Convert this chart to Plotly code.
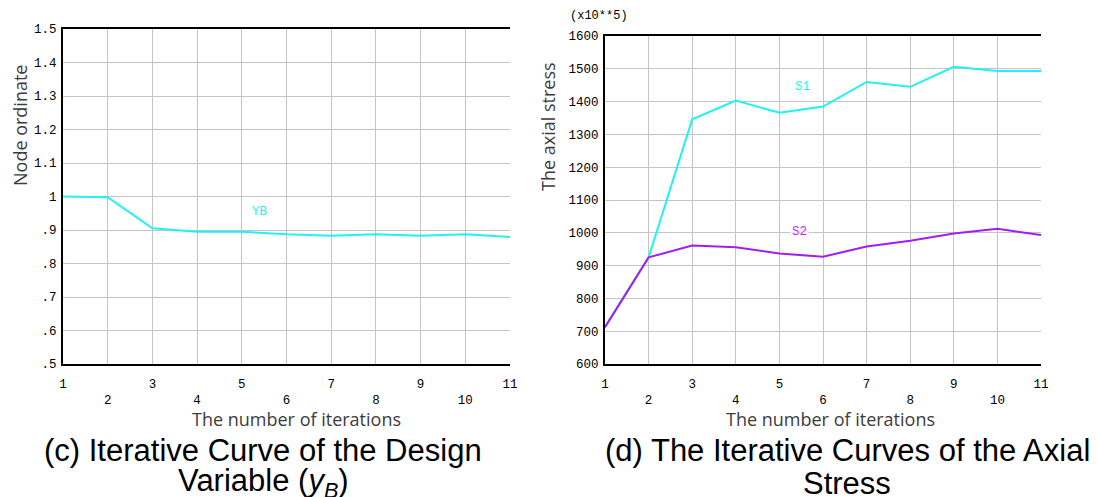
import plotly.graph_objects as go

iterations = list(range(1, 12))
yb_values = [1.0, 0.998, 0.905, 0.895, 0.895, 0.887, 0.883, 0.887, 0.883, 0.887, 0.879]
s1_values = [712, 925, 1346, 1403, 1366, 1385, 1460, 1445, 1506, 1493, 1493]
s2_values = [712, 925, 961, 956, 937, 927, 958, 976, 998, 1012, 993]

x_tickvals = iterations
x_ticktext = [str(v) if v % 2 == 1 else "<br>" + str(v) for v in iterations]
left_yvals = [0.5, 0.6, 0.7, 0.8, 0.9, 1.0, 1.1, 1.2, 1.3, 1.4, 1.5]
left_ytext = [".5", ".6", ".7", ".8", ".9", "1", "1.1", "1.2", "1.3", "1.4", "1.5"]
right_yvals = [600, 700, 800, 900, 1000, 1100, 1200, 1300, 1400, 1500, 1600]
right_ytext = [str(v) for v in right_yvals]

CYAN = "#1ff2f2"
PURPLE = "#a01ef0"
MONO = "Liberation Mono, DejaVu Sans Mono, monospace"
SANS = "Open Sans, Noto Sans, sans-serif"
CAP = "Liberation Sans, Arial, sans-serif"
GRID = "#c4c4c4"
TITLE_COL = "#3c3c3c"

fig = go.Figure()
fig.add_trace(go.Scatter(x=iterations, y=yb_values, mode="lines",
                         line=dict(color=CYAN, width=2), xaxis="x", yaxis="y", showlegend=False))
fig.add_trace(go.Scatter(x=iterations, y=s1_values, mode="lines",
                         line=dict(color=CYAN, width=2), xaxis="x2", yaxis="y2", showlegend=False))
fig.add_trace(go.Scatter(x=iterations, y=s2_values, mode="lines",
                         line=dict(color=PURPLE, width=2), xaxis="x2", yaxis="y2", showlegend=False))

W, H = 1097, 497
OFF = 8  # page body margin

def px(xp):
    return (xp - OFF) / W

def py(yp):
    return 1 - (yp - OFF) / H

xcommon = dict(range=[1, 11], tickmode="array", tickvals=x_tickvals, ticktext=x_ticktext,
               showgrid=True, gridcolor=GRID, gridwidth=1, showline=True, linecolor="black",
               linewidth=2, mirror=True, ticks="", zeroline=False, automargin=False,
               ticklabelstandoff=7,
               tickfont=dict(family=MONO, size=12.5, color="black"))
ycommon = dict(tickmode="array", showgrid=True, gridcolor=GRID, gridwidth=1, showline=True,
               linecolor="black", linewidth=2, mirror=False, ticks="", zeroline=False,
               automargin=False, ticklabelstandoff=2,
               tickfont=dict(family=MONO, size=12.5, color="black"))

fig.update_layout(
    width=W, height=H, margin=dict(l=0, r=0, t=0, b=0, autoexpand=False),
    paper_bgcolor="white", plot_bgcolor="white",
    xaxis=dict(domain=[px(63), px(510)], anchor="y", **xcommon),
    yaxis=dict(domain=[py(364), py(29)], anchor="x", range=[0.5, 1.5],
               tickvals=left_yvals, ticktext=left_ytext, **ycommon),
    xaxis2=dict(domain=[px(605), px(1041)], anchor="y2", **xcommon),
    yaxis2=dict(domain=[py(364), py(36)], anchor="x2", range=[600, 1600],
                tickvals=right_yvals, ticktext=right_ytext, **ycommon),
)

def note(x, y, text, font, **kw):
    d = dict(x=px(x), y=py(y), xref="paper", yref="paper", text=text, showarrow=False,
             xanchor="center", yanchor="middle", font=font)
    d.update(kw)
    return d

ann = []
ann.append(dict(x=5.41, y=0.954, xref="x", yref="y", text="YB", showarrow=False,
                xanchor="center", yanchor="middle",
                font=dict(family=MONO, size=12.5, color=CYAN)))
ann.append(dict(x=5.54, y=1445, xref="x2", yref="y2", text="S1", showarrow=False,
                xanchor="center", yanchor="middle",
                font=dict(family=MONO, size=12.5, color=CYAN)))
ann.append(dict(x=5.47, y=1002, xref="x2", yref="y2", text="S2", showarrow=False,
                xanchor="center", yanchor="middle", bgcolor="white",
                font=dict(family=MONO, size=12.5, color="#c81eff")))
ann.append(dict(x=px(599), y=1, xref="paper", yref="paper", text="(x10**5)", showarrow=False,
                xanchor="center", yanchor="top", borderpad=0,
                font=dict(family=MONO, size=12, color="black")))
ann.append(note(20, 126, "Node ordinate", dict(family=SANS, size=18, color=TITLE_COL),
                textangle=-90, borderpad=0))
ann.append(note(548, 127, "The axial stress", dict(family=SANS, size=18, color=TITLE_COL),
                textangle=-90, borderpad=0))
ann.append(note(296, 419, "The number of iterations", dict(family=SANS, size=18, color=TITLE_COL),
                borderpad=0))
ann.append(note(830, 419, "The number of iterations", dict(family=SANS, size=18, color=TITLE_COL),
                borderpad=0))
cap_font = dict(family=CAP, size=31, color="black")
ann.append(note(263, 450, "(c) Iterative Curve of the Design", cap_font, borderpad=0))
ann.append(note(263, 483, "Variable (<i>y<sub>B</sub></i>)", cap_font, borderpad=0))
ann.append(note(847, 450, "(d) The Iterative Curves of the Axial", cap_font, borderpad=0))
ann.append(note(847, 483, "Stress", cap_font, borderpad=0))
fig.update_layout(annotations=ann)

fig.write_html("out.html")
